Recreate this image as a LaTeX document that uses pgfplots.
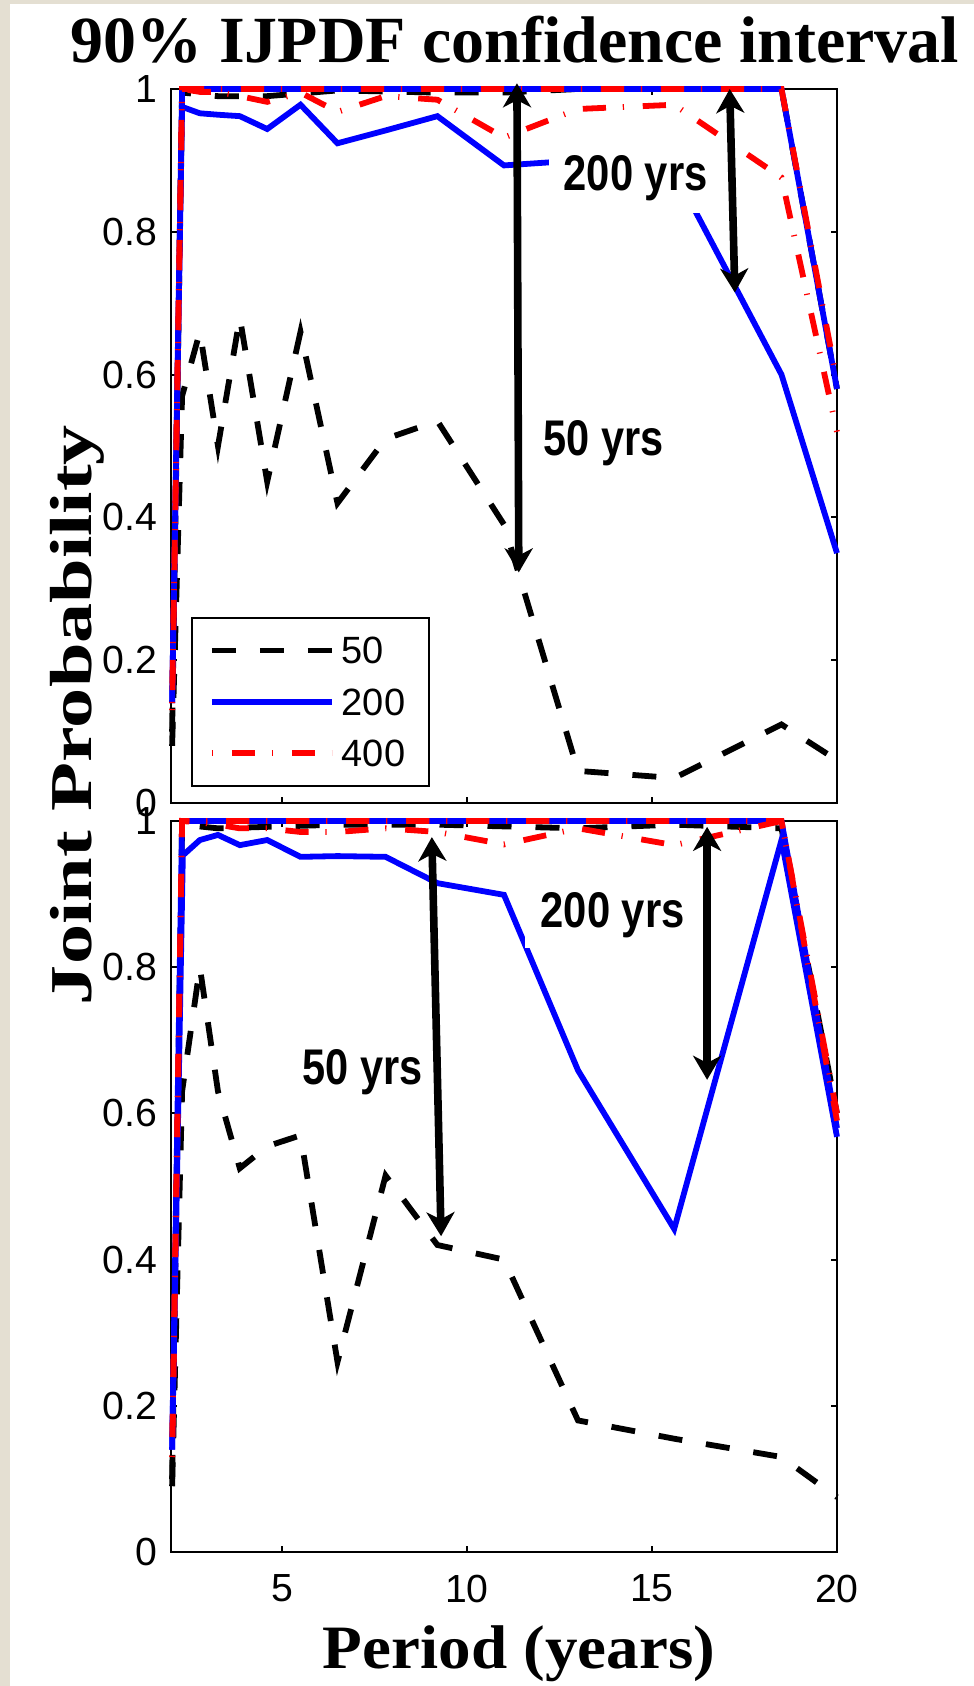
\documentclass[border=0pt]{standalone}
\usepackage{fontspec}
\setmainfont{Liberation Sans}
\newfontfamily\serifbf{Liberation Serif}
\usepackage{graphicx}
\usepackage{pgfplots}
\pgfplotsset{compat=1.18}
\usetikzlibrary{arrows.meta}
\definecolor{bgbeige}{RGB}{228,223,210}
\definecolor{mblue}{RGB}{0,0,255}
\definecolor{mred}{RGB}{255,0,0}

\tikzset{
  s50/.style={black, line width=1.45pt, dash pattern=on 6pt off 6pt},
  s200/.style={mblue, line width=1.45pt, solid},
  s400/.style={mred, line width=1.45pt, dash pattern=on 0.3pt off 4.7pt on 5.8pt off 4.2pt},
  dblarrow/.style={black, line width=1.9pt, solid, {Stealth[length=6pt,width=7pt,inset=1.8pt]}-{Stealth[length=6pt,width=7pt,inset=1.8pt]}},
}
\newcommand{\yrs}[2]{\resizebox{#1}{8.75pt}{\bfseries #2}}

\pgfplotsset{
  panel/.style={
    scale only axis, width=166.5pt, xmin=2, xmax=20, ymin=0, ymax=1,
    xtick={5,10,15,20}, ytick={0,0.2,0.4,0.6,0.8,1},
    tick align=inside, xtick pos=both, ytick pos=both,
    major tick length=1.5pt,
    axis line style={line width=0.5pt},
    major tick style={black, line width=0.5pt},
    tick label style={font=\fontsize{9.8}{11}\selectfont},
    xticklabel style={yshift=-2.2pt},
    /pgf/number format/assume math mode=true,
    clip=false,
    legend image code/.code={\draw[##1] (0pt,0pt) -- (30pt,0pt);},
  },
}

\begin{document}
\begin{tikzpicture}
\useasboundingbox (0,0) rectangle (243.5pt,-421.5pt);
\fill[bgbeige] (0,0) rectangle (243.5pt,-421.5pt);
\fill[white] (2.5pt,-1pt) rectangle (243.5pt,-421.5pt);

\node[anchor=base, inner sep=0] at (128.75pt,-15.5pt) {\resizebox{222pt}{!}{\serifbf\bfseries 90\% IJPDF confidence interval}};

% ---------- top panel ----------
\begin{axis}[panel, at={(42.75pt,-22.25pt)}, anchor=north west, height=178.5pt,
  xticklabels={},
  legend style={at={(0.030,0.2605)}, anchor=north west, draw=black, line width=0.5pt,
    inner xsep=4.25pt, inner ysep=1.7pt, font=\fontsize{9.5}{11}\selectfont,
    nodes={inner xsep=1.75pt, inner ysep=3.1pt, text depth=0pt}, cells={anchor=west}, row sep=0pt},
]
\addplot[s50] coordinates {(2.03,0.08)(2.3,0.57)(2.78,0.66)(3.27,0.50)(3.86,0.68)(4.6,0.45)(5.5,0.66)(6.5,0.42)(7.8,0.51)(9.2,0.535)(11.0,0.39)(13.0,0.045)(15.6,0.035)(18.5,0.11)(20,0.06)};
\addlegendentry{50}
\addplot[s50, forget plot] coordinates {(2.03,0.10)(2.3,0.995)(3.27,0.99)(4.6,0.99)(6.5,0.998)(9.2,0.995)(11.0,0.995)(13.0,1)(18.5,1)(20,0.58)};
\addplot[s200] coordinates {(2.03,0.14)(2.3,0.975)(2.78,0.966)(3.27,0.964)(3.86,0.962)(4.6,0.944)(5.5,0.978)(6.5,0.924)(7.8,0.942)(9.2,0.962)(11.0,0.893)(13.0,0.90)(15.6,0.885)(18.5,0.60)(20,0.35)};
\addlegendentry{200}
\addplot[s200, forget plot] coordinates {(2.03,0.14)(2.3,1)(18.5,1)(20,0.58)};
\addplot[s400] coordinates {(2.03,0.14)(2.3,1.0)(2.78,0.996)(3.27,0.996)(3.86,0.99)(4.6,0.982)(5.5,0.995)(6.5,0.968)(7.8,0.99)(9.2,0.985)(11.0,0.932)(13.0,0.972)(15.6,0.978)(18.5,0.876)(20,0.52)};
\addlegendentry{400}
\addplot[s400, forget plot] coordinates {(2.03,0.13)(2.3,1)(18.5,1)(20,0.59)};

\fill[white] (axis cs:12.22,0.826) rectangle (axis cs:16.86,0.92);
\node[anchor=base west, inner sep=0] at (axis cs:12.59,0.858) {\yrs{36pt}{200 yrs}};
\node[anchor=base west, inner sep=0] at (axis cs:12.05,0.487) {\yrs{30pt}{50 yrs}};
\draw[dblarrow] (axis cs:11.35,1.008) -- (axis cs:11.4,0.323);
\draw[dblarrow] (axis cs:17.1,1.0) -- (axis cs:17.24,0.715);
\end{axis}

% ---------- bottom panel ----------
\begin{axis}[panel, at={(42.75pt,-205.25pt)}, anchor=north west, height=182.75pt,
  xticklabels={5,10,15,20},
]
\addplot[s50] coordinates {(2.03,0.09)(2.3,0.63)(2.78,0.80)(3.27,0.63)(3.86,0.525)(4.6,0.555)(5.5,0.57)(6.5,0.26)(7.8,0.515)(9.2,0.42)(11.0,0.40)(13.0,0.18)(15.6,0.155)(18.5,0.13)(20,0.075)};
\addplot[s50] coordinates {(2.03,0.10)(2.3,0.995)(3.27,0.99)(4.6,0.992)(6.5,0.995)(9.2,0.995)(13.0,0.99)(15.6,0.995)(18.5,0.99)(20,0.6)};
\addplot[s200] coordinates {(2.03,0.14)(2.32,0.953)(2.78,0.974)(3.27,0.981)(3.86,0.967)(4.6,0.974)(5.5,0.951)(6.5,0.952)(7.8,0.951)(9.2,0.915)(11.0,0.899)(13.0,0.659)(15.6,0.442)(18.5,0.974)(20,0.568)};
\addplot[s200] coordinates {(2.03,0.14)(2.3,1)(18.5,1)(20,0.58)};
\addplot[s400] coordinates {(2.03,0.13)(2.3,1.0)(2.78,0.998)(3.27,0.995)(3.86,0.99)(4.6,0.99)(5.5,0.985)(6.5,0.985)(7.8,0.99)(9.2,0.985)(11.0,0.968)(13.0,0.99)(15.6,0.967)(18.5,1.0)(20,0.6)};
\addplot[s400] coordinates {(2.03,0.13)(2.3,1)(18.5,1)(20,0.59)};

\fill[white] (axis cs:11.57,0.826) rectangle (axis cs:16.24,0.925);
\node[anchor=base west, inner sep=0] at (axis cs:11.97,0.854) {\yrs{36pt}{200 yrs}};
\node[anchor=base west, inner sep=0] at (axis cs:5.54,0.639) {\yrs{30pt}{50 yrs}};
\draw[dblarrow] (axis cs:9.05,0.978) -- (axis cs:9.3,0.432);
\draw[dblarrow] (axis cs:16.49,0.992) -- (axis cs:16.49,0.646);
\end{axis}

\node[anchor=base, inner sep=0, rotate=90] at (23pt,-178.75pt) {\resizebox{145pt}{10.3pt}{\serifbf\bfseries Joint Probability}};
\node[anchor=base, inner sep=0] at (129.75pt,-417pt) {\resizebox{98pt}{10.7pt}{\serifbf\bfseries Period (years)}};
\end{tikzpicture}
\end{document}
